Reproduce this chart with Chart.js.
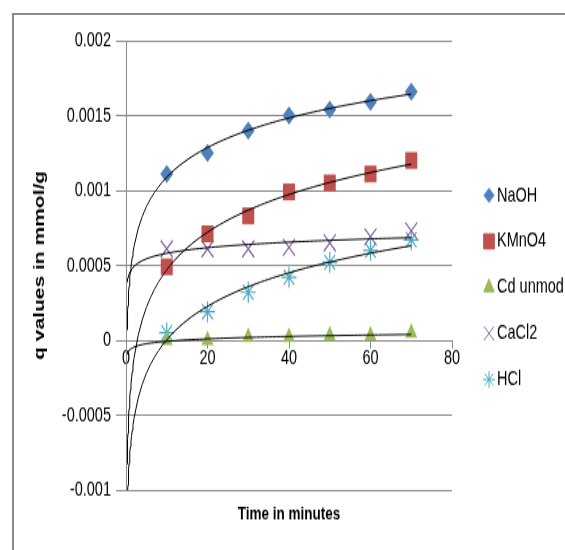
<!DOCTYPE html>
<html>
<head>
<meta charset="utf-8">
<script src="https://cdn.jsdelivr.net/npm/chart.js@4.4.1/dist/chart.umd.min.js"></script>
<style>
  body { margin: 0; background: #fff; }
  #wrap { position: relative; width: 565px; height: 550px; overflow: hidden; background: #fff; }
  /* the original picture is stretched vertically, so the chart is drawn short and scaled */
  #stretch { position: absolute; left: 0; top: 0; width: 565px; height: 393px; transform: scaleY(1.4); transform-origin: 0 0; }
  #frame { position: absolute; left: 12px; top: 13px; width: 700px; height: 700px; border: 2px solid #8a8a8a; }
</style>
</head>
<body>
<div id="wrap">
  <div id="frame"></div>
  <div id="stretch">
    <canvas id="myChart" width="565" height="393"></canvas>
  </div>
</div>
<script>
// time in minutes
const times = [10, 20, 30, 40, 50, 60, 70];
// q values in mmol/g
const naoh = [0.00111, 0.00125, 0.0014, 0.0015, 0.00154, 0.00159, 0.00166];
const kmno4 = [0.00049, 0.00071, 0.00083, 0.00099, 0.00105, 0.00111, 0.0012];
const cdUnmod = [0, 0, 0.00002, 0.00002, 0.00003, 0.00003, 0.00005];
const cacl2 = [0.00061, 0.00061, 0.00061, 0.00062, 0.00065, 0.00069, 0.00073];
const hcl = [0.00005, 0.00019, 0.00032, 0.00042, 0.00052, 0.0006, 0.00067];

const yTickLabels = ["-0.001", "-0.0005", "0", "0.0005", "0.001", "0.0015", "0.002"];
const xTickLabels = ["0", "20", "40", "60", "80"];

const FONT = "'Liberation Sans', Arial, sans-serif";

const series = [
  { label: "NaOH", data: naoh, color: "#4F81BD", style: "rectRot", radius: 6.5, legendRadius: 5 },
  { label: "KMnO4", data: kmno4, color: "#C0504D", style: "rect", radius: 8.5, legendRadius: 7.5 },
  { label: "Cd unmod", data: cdUnmod, color: "#9BBB59", style: "triangle", radius: 7, legendRadius: 6 },
  { label: "CaCl2", data: cacl2, color: "#8064A2", style: "crossRot", radius: 8.5, legendRadius: 7 },
  { label: "HCl", data: hcl, color: "#4BACC6", style: "star", radius: 7.5, legendRadius: 6 }
];

// logarithmic trendline (least squares y = a ln x + b), like the spreadsheet
function logFit(xs, ys) {
  const n = xs.length;
  let sx = 0, sy = 0, sxx = 0, sxy = 0;
  for (let i = 0; i < n; i++) {
    const lx = Math.log(xs[i]);
    sx += lx; sy += ys[i]; sxx += lx * lx; sxy += lx * ys[i];
  }
  const a = (n * sxy - sx * sy) / (n * sxx - sx * sx);
  const b = (sy - a * sx) / n;
  const pts = [];
  for (let x = 0.28; x < 2; x *= 1.12) pts.push({ x: x, y: a * Math.log(x) + b });
  for (let x = 2; x <= 70; x += 1) pts.push({ x: x, y: a * Math.log(x) + b });
  return pts;
}

const thin = function (s) { return s === "crossRot" || s === "star"; };

const datasets = [];
series.forEach(function (s) {
  datasets.push({
    label: s.label,
    data: times.map(function (t, i) { return { x: t, y: s.data[i] }; }),
    showLine: false,
    pointStyle: s.style,
    pointRadius: s.radius,
    pointHoverRadius: s.radius,
    backgroundColor: s.color,
    borderColor: s.color,
    pointBorderWidth: thin(s.style) ? 1.2 : 0,
    order: 1
  });
});
series.forEach(function (s) {
  datasets.push({
    label: "",
    data: logFit(times, s.data),
    showLine: true,
    borderColor: "#000",
    borderWidth: 1,
    pointRadius: 0,
    order: 0
  });
});

// legend drawn on the right like the original
const sideLegend = {
  id: "sideLegend",
  afterDraw(chart) {
    const ctx = chart.ctx;
    ctx.save();
    series.forEach(function (s, i) {
      const y = 139.5 + i * 32.9;
      ctx.fillStyle = s.color;
      ctx.strokeStyle = s.color;
      ctx.lineWidth = thin(s.style) ? 1 : 0;
      Chart.helpers.drawPoint(ctx, { pointStyle: s.style, radius: s.legendRadius, rotation: 0, borderWidth: ctx.lineWidth }, 489, y);
      ctx.fillStyle = "#000";
      ctx.font = "14.5px " + FONT;
      ctx.textBaseline = "middle";
      ctx.fillText(s.label, 497, y);
    });
    ctx.restore();
  }
};

const ctx = document.getElementById("myChart").getContext("2d");
const myChart = new Chart(ctx, {
  type: "scatter",
  data: { datasets: datasets },
  plugins: [sideLegend],
  options: {
    responsive: false,
    animation: false,
    layout: { padding: { left: 27, top: 29, right: 113, bottom: 18 } },
    plugins: { legend: { display: false }, tooltip: { enabled: false } },
    scales: {
      x: {
        type: "linear",
        min: 0, max: 80,
        position: { y: 0 },
        ticks: {
          stepSize: 20,
          color: "#000",
          font: { family: FONT, size: 14.5 },
          padding: -1,
          maxRotation: 0,
          callback: function (v, i) { return xTickLabels[i]; }
        },
        grid: { drawOnChartArea: false, drawTicks: true, tickLength: 5, color: "#8a8a8a" },
        border: { color: "#8a8a8a", width: 1 }
      },
      xt: {
        type: "linear",
        min: 0, max: 80,
        position: "bottom",
        ticks: { display: false },
        grid: { display: false },
        border: { display: false },
        title: { display: true, text: "Time in minutes", color: "#000", font: { family: FONT, size: 13.5, weight: "bold" }, padding: 0 },
        afterFit: function (scale) { scale.height = 25; }
      },
      y: {
        type: "linear",
        min: -0.001, max: 0.002,
        position: "left",
        ticks: {
          stepSize: 0.0005,
          color: "#000",
          font: { family: FONT, size: 14.5 },
          padding: 5,
          callback: function (v, i) { return yTickLabels[i]; }
        },
        grid: { color: "#8a8a8a", tickLength: 10 },
        border: { color: "#8a8a8a", width: 1 },
        title: { display: true, text: "q values in mmol/g", color: "#000", font: { family: FONT, size: 15, weight: "bold" }, padding: 4 },
        afterFit: function (scale) { scale.width = 99; }
      }
    }
  }
});
</script>
</body>
</html>
